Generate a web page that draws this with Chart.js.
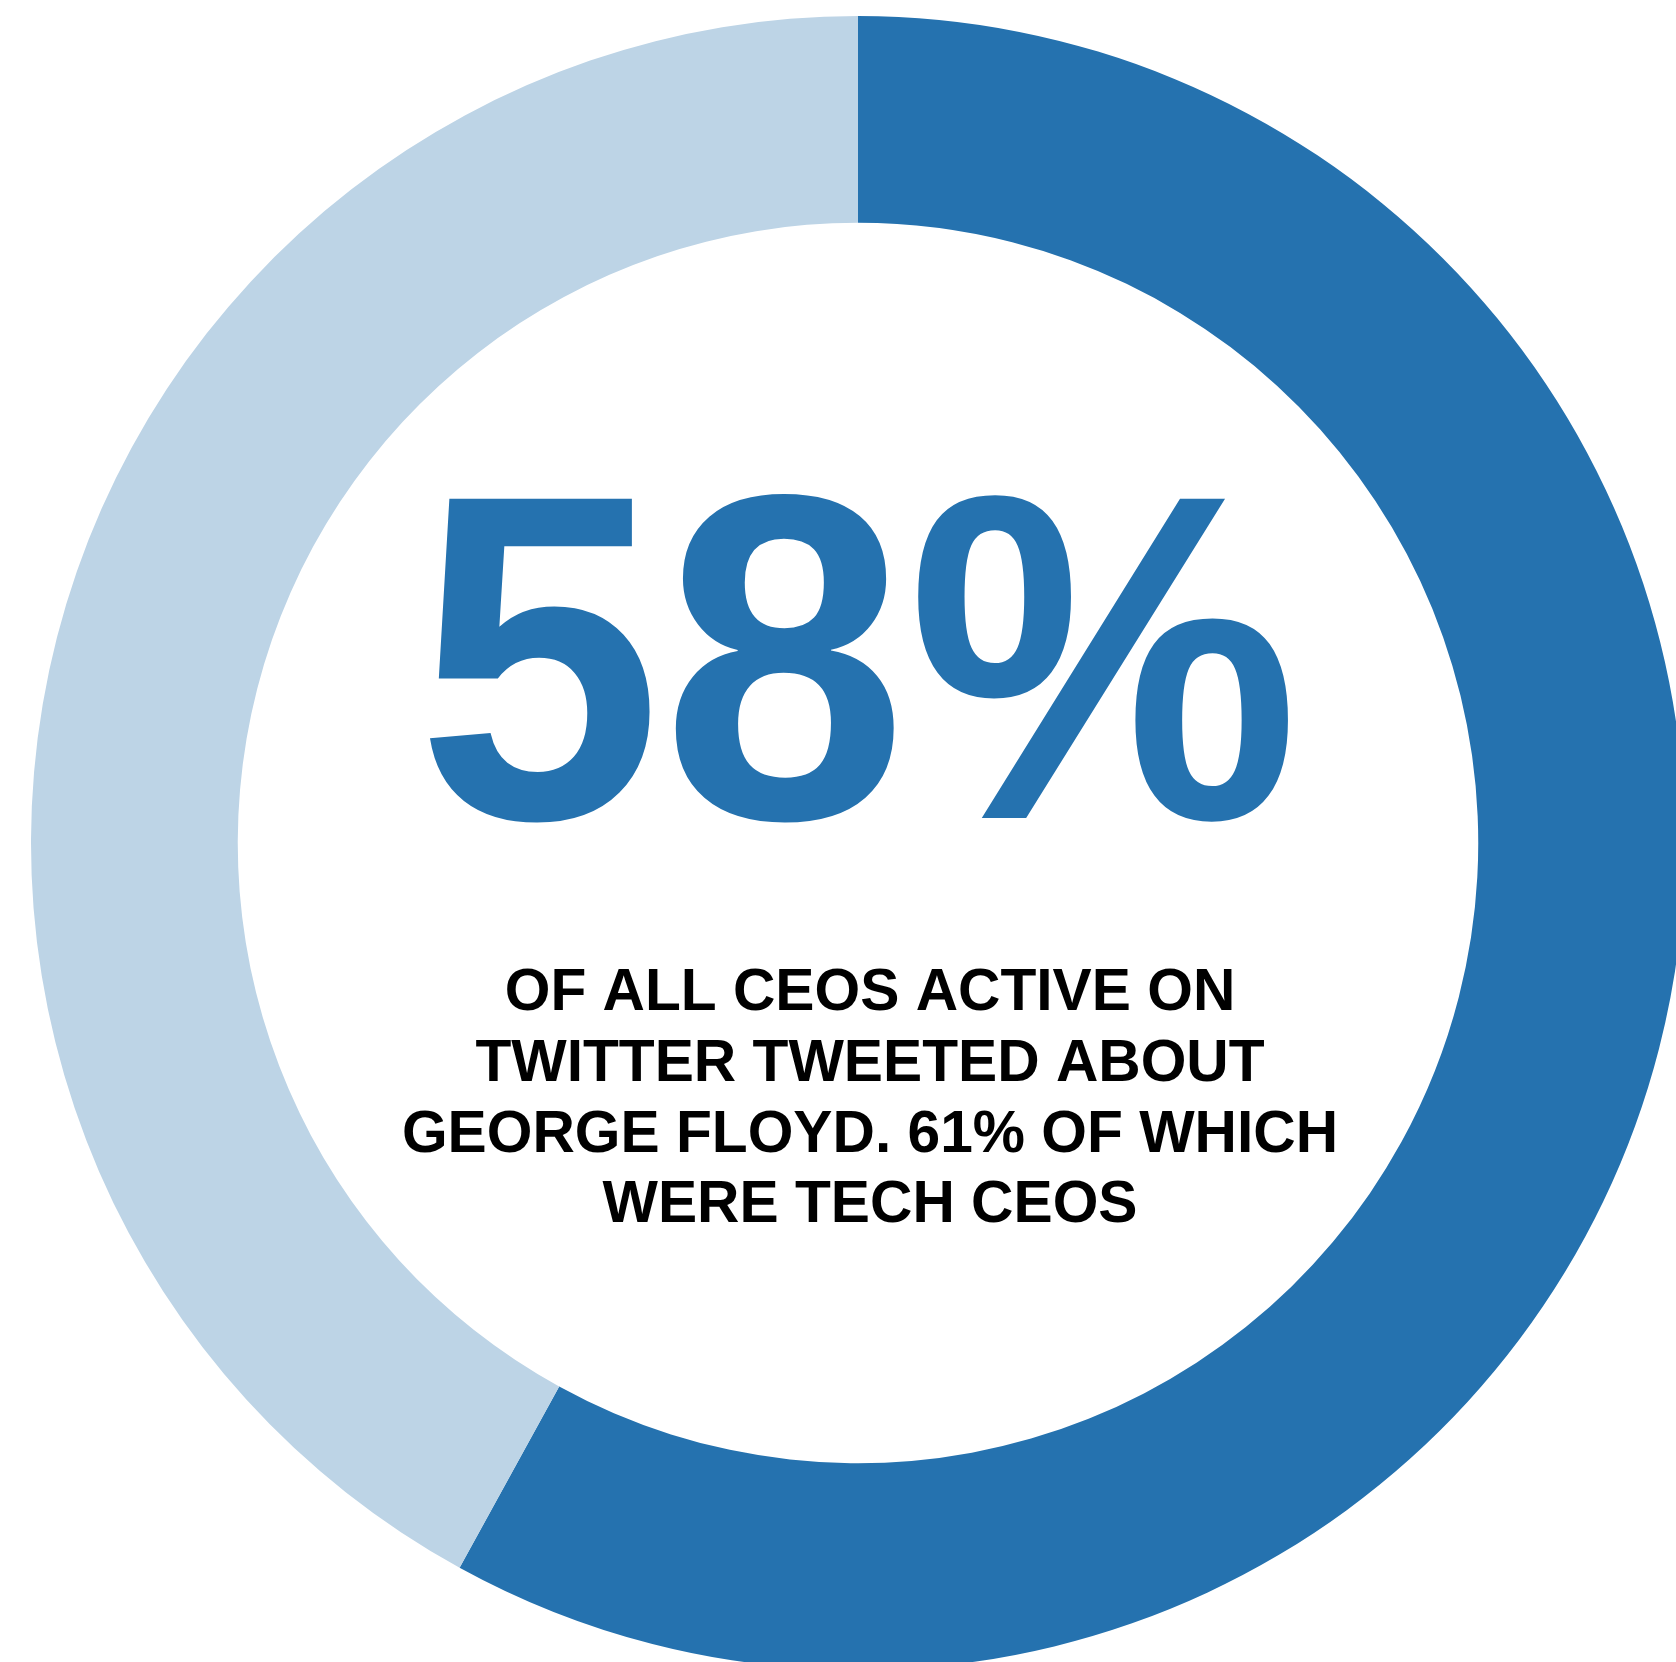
<!DOCTYPE html>
<html>
<head>
<meta charset="utf-8">
<title>CEOs tweeting about George Floyd</title>
<script src="https://cdn.jsdelivr.net/npm/chart.js@4/dist/chart.umd.min.js"></script>
<style>
  html, body { margin: 0; padding: 0; background: #fff; overflow: hidden; width: 1676px; height: 1662px; }
  #ring { position: absolute; left: 31px; top: 16px; }
</style>
</head>
<body>
<canvas id="ring" width="1654" height="1654"></canvas>
<script>
// share of CEOs active on Twitter who tweeted vs. did not
const segments = ['Tweeted about George Floyd', 'Did not tweet'];
const shares = [58, 42];
const segmentColors = ['#2572af', '#bdd4e6'];

const headline = shares[0] + '%';
const caption = [
    'OF ALL CEOS ACTIVE ON',
    'TWITTER TWEETED ABOUT',
    'GEORGE FLOYD. 61% OF WHICH',
    'WERE TECH CEOS'
];

// draw text squeezed horizontally by sx
function squeezed(ctx, text, x, y, sx) {
    ctx.save();
    ctx.translate(x, y);
    ctx.scale(sx, 1);
    ctx.fillText(text, 0, 0);
    ctx.restore();
}

// big number + caption in the hole of the ring
const centerText = {
    id: 'centerText',
    afterDraw(chart) {
        const ctx = chart.ctx;
        const arc = chart.getDatasetMeta(0).data[0];
        const cx = arc.x, cy = arc.y;
        ctx.save();
        ctx.textAlign = 'center';
        ctx.textBaseline = 'alphabetic';
        ctx.fillStyle = segmentColors[0];
        ctx.font = 'bold 464px "Liberation Sans", Arial, sans-serif';
        squeezed(ctx, headline, cx, cy - 25, 0.951);

        // caption block sits a little right of the ring centre
        ctx.fillStyle = '#000';
        ctx.font = 'bold 59px "Liberation Sans", Arial, sans-serif';
        caption.forEach((line, i) => {
            squeezed(ctx, line, cx + 12, cy + 167 + i * 70.8, 0.995);
        });
        ctx.restore();
    }
};

new Chart(document.getElementById('ring'), {
    type: 'doughnut',
    data: {
        labels: segments,
        datasets: [{
            data: shares,
            backgroundColor: segmentColors,
            borderWidth: 0,
            hoverOffset: 0
        }]
    },
    options: {
        responsive: false,
        maintainAspectRatio: false,
        animation: false,
        cutout: '75%',
        layout: { padding: 0 },
        plugins: {
            legend: { display: false },
            tooltip: { enabled: false }
        }
    },
    plugins: [centerText]
});
</script>
</body>
</html>
